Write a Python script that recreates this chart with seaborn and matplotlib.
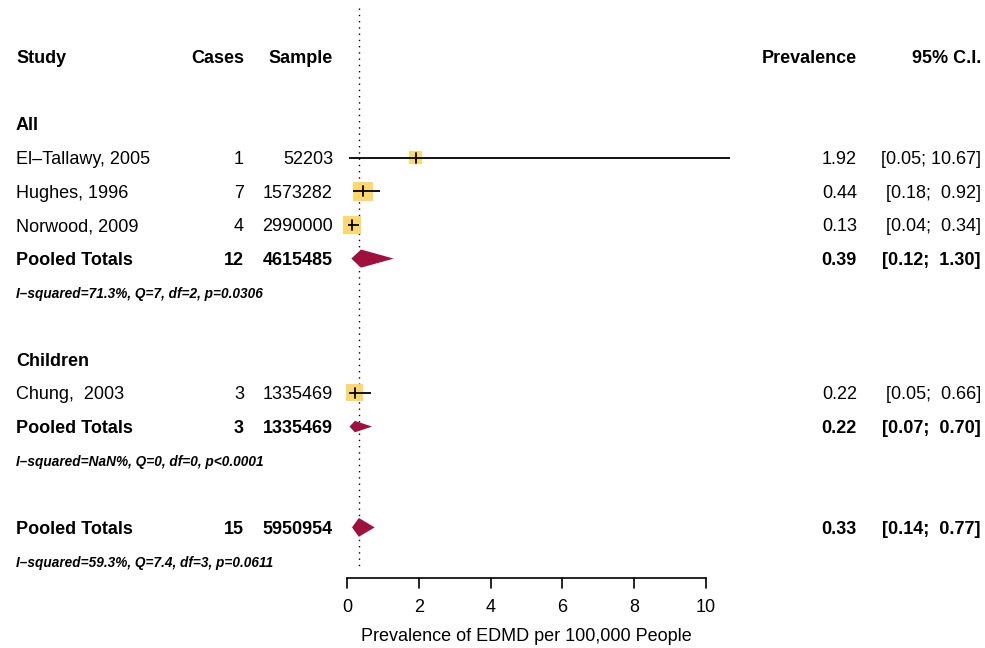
import numpy as np
import pandas as pd
import matplotlib
matplotlib.use("Agg")
import matplotlib.pyplot as plt
import seaborn as sns
from matplotlib.transforms import blended_transform_factory

# ---------------- data ----------------
studies = ["El–Tallawy, 2005", "Hughes, 1996", "Norwood, 2009", "Chung,  2003"]
groups = ["All", "All", "All", "Children"]
cases = [1, 7, 4, 3]
samples = [52203, 1573282, 2990000, 1335469]
prev = [1.92, 0.44, 0.13, 0.22]
ci_lo = [0.05, 0.18, 0.04, 0.05]
ci_hi = [10.67, 0.92, 0.34, 0.66]
ci_text = ["[0.05; 10.67]", "[0.18;  0.92]", "[0.04;  0.34]", "[0.05;  0.66]"]

group_names = ["All", "Children"]
pooled_cases = [12, 3, 15]
pooled_samples = [4615485, 1335469, 5950954]
pooled_prev = [0.39, 0.22, 0.33]
pooled_lo = [0.12, 0.07, 0.14]
pooled_hi = [1.30, 0.70, 0.77]
pooled_ci_text = ["[0.12;  1.30]", "[0.07;  0.70]", "[0.14;  0.77]"]
het_text = ["I–squared=71.3%, Q=7, df=2, p=0.0306",
            "I–squared=NaN%, Q=0, df=0, p<0.0001",
            "I–squared=59.3%, Q=7.4, df=3, p=0.0611"]

x_ticks = [0, 2, 4, 6, 8, 10]
x_label = "Prevalence of EDMD per 100,000 People"
headers = ["Study", "Cases", "Sample", "Prevalence", "95% C.I."]

# ---------------- layout / style ----------------
study_rows = [3, 4, 5, 10]
group_rows = [2, 9]
pooled_rows = [6, 11, 14]
het_rows = [7, 12, 15]
square_px = [13, 19.5, 18, 17]
diamond_half = [0.27, 0.17, 0.28]
SQ_COLOR = "#FDD663"
DIA_COLOR = "#A0103C"

W, H, DPI = 985, 648, 100
x0_px, x10_px = 347, 706
px_per_unit = (x10_px - x0_px) / 10.0
row0_px, row_px = 57, 33.6

sns.set_style("white")
plt.rcParams["font.family"] = ["Liberation Sans", "DejaVu Sans"]
plt.rcParams["text.color"] = "black"
FS = 13
TOFF = 1.8 / row_px  # small downward text offset

fig = plt.figure(figsize=(W / DPI, H / DPI), dpi=DPI)
ax = fig.add_axes([0, 0, 1, 1])
ax.set_xlim(-x0_px / px_per_unit, (W - x0_px) / px_per_unit)
ax.set_ylim((H - row0_px) / row_px, -row0_px / row_px)
ax.axis("off")

tr = blended_transform_factory(fig.transFigure, ax.transData)
def colx(px):
    return px / W

def txt(px, r, s, ha, bold=False, fs=FS, italic=False):
    ax.text(colx(px), r + TOFF, s, transform=tr, ha=ha, va="center", fontsize=fs,
            fontweight="bold" if bold else "normal",
            fontstyle="italic" if italic else "normal", color="black")

# column positions (pixels)
c_study, c_cases, c_sample, c_prev, c_ci = 16, 244, 333, 857, 981

# headers
txt(c_study, 0, headers[0], "left", True)
txt(c_cases, 0, headers[1], "right", True)
txt(c_sample, 0, headers[2], "right", True)
txt(c_prev, 0, headers[3], "right", True)
txt(c_ci, 0, headers[4], "right", True)

for g, r in zip(group_names, group_rows):
    txt(c_study, r, g, "left", True)

# reference dotted line at overall pooled estimate
ax.plot([pooled_prev[-1], pooled_prev[-1]], [-1.45, 15.2], color="black", lw=1.0,
        ls=(0, (1, 3.5)), zorder=1)

# study rows
df = pd.DataFrame({"study": studies, "prev": prev, "lo": ci_lo, "hi": ci_hi,
                   "row": study_rows, "size": [(p * 72 / DPI) ** 2 for p in square_px]})
sns.scatterplot(data=df, x="prev", y="row", marker="s", s=df["size"].values, color=SQ_COLOR,
                edgecolor="none", linewidth=0, ax=ax, legend=False, zorder=2, alpha=0.95)
for i, r in enumerate(study_rows):
    ax.plot([ci_lo[i], ci_hi[i]], [r, r], color="black", lw=1.3, zorder=3, clip_on=False,
            solid_capstyle="butt")
    ax.plot([prev[i], prev[i]], [r - 0.15, r + 0.15], color="black", lw=1.3, zorder=3)
    txt(c_study, r, studies[i], "left")
    txt(c_cases, r, str(cases[i]), "right")
    txt(c_sample, r, str(samples[i]), "right")
    txt(c_prev, r, f"{prev[i]:.2f}", "right")
    txt(c_ci, r, ci_text[i], "right")

# pooled rows
for i, r in enumerate(pooled_rows):
    h = diamond_half[i]
    ax.fill([pooled_lo[i], pooled_prev[i], pooled_hi[i], pooled_prev[i]],
            [r, r - h, r, r + h], color=DIA_COLOR, lw=0, zorder=3)
    txt(c_study, r, "Pooled Totals", "left", True)
    txt(c_cases, r, str(pooled_cases[i]), "right", True)
    txt(c_sample, r, str(pooled_samples[i]), "right", True)
    txt(c_prev, r, f"{pooled_prev[i]:.2f}", "right", True)
    txt(c_ci, r, pooled_ci_text[i], "right", True)

for t, r in zip(het_text, het_rows):
    txt(c_study, r, t, "left", True, fs=9.8, italic=True)

# x axis drawn R-style
axis_row = (578 - row0_px) / row_px
tick_len = 10 / row_px
ax.plot([x_ticks[0], x_ticks[-1]], [axis_row, axis_row], color="black", lw=1.2)
for t in x_ticks:
    ax.plot([t, t], [axis_row, axis_row + tick_len], color="black", lw=1.2)
    ax.text(t, (608 - row0_px) / row_px, str(t), ha="center", va="center", fontsize=FS, color="black")
ax.text((x_ticks[0] + x_ticks[-1]) / 2, (637 - row0_px) / row_px, x_label,
        ha="center", va="center", fontsize=FS, color="black")

fig.savefig("out.png", dpi=DPI)
